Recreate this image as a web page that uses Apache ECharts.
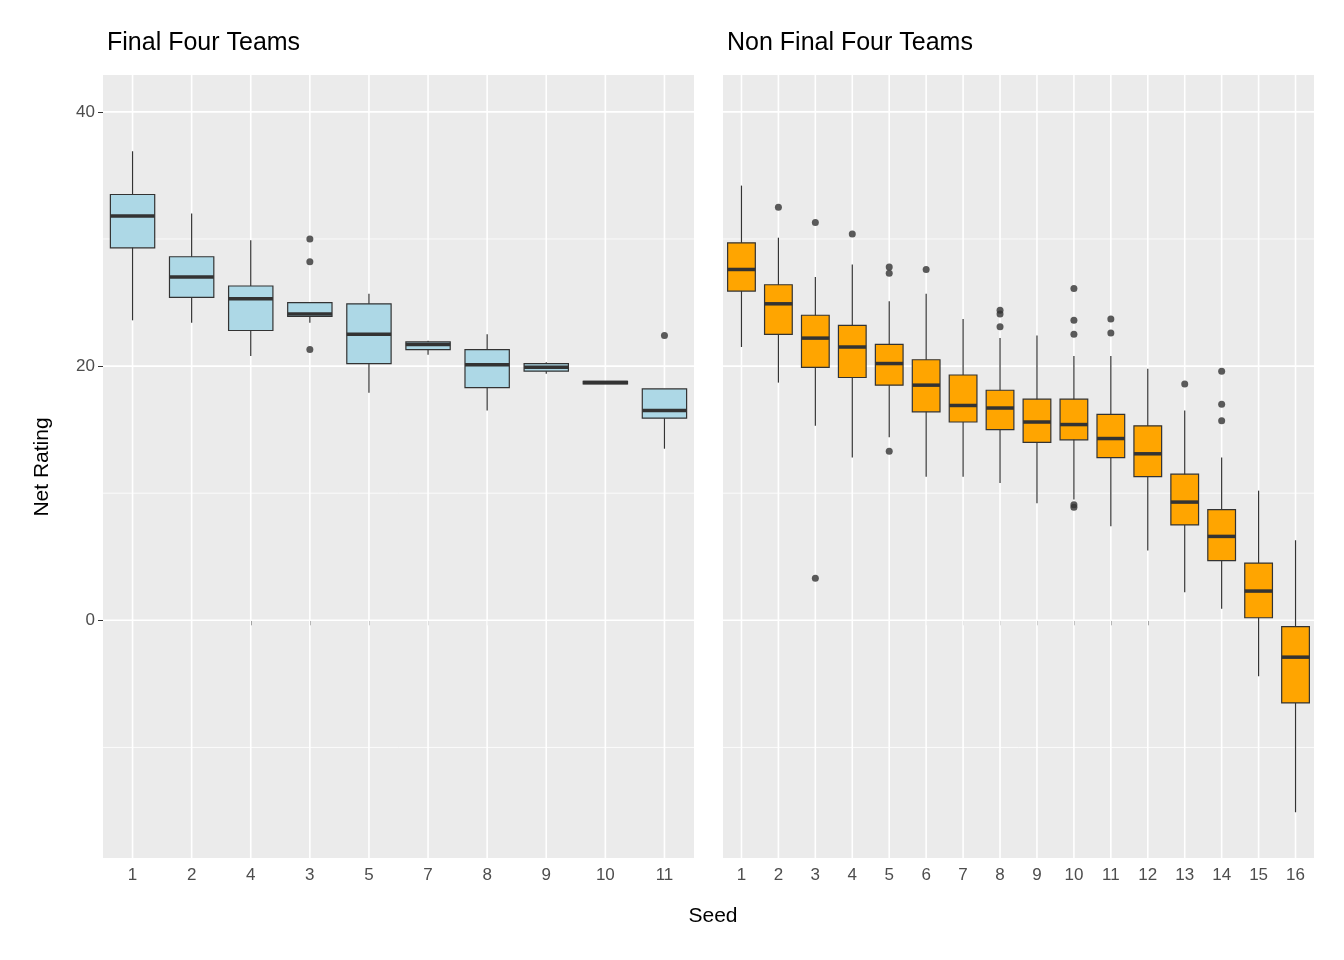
<!DOCTYPE html>
<html><head><meta charset="utf-8">
<script src="https://cdn.jsdelivr.net/npm/echarts@6/dist/echarts.min.js"></script>
<style>html,body{margin:0;padding:0;background:#fff}#c{width:1344px;height:960px}</style>
</head><body><div id="c"></div>
<script>
// Final Four panel
const ffSeeds = ['1','2','4','3','5','7','8','9','10','11'];
// [low whisker, Q1, median, Q3, high whisker]
const ffBoxes = [
  [23.6,29.3,31.8,33.5,36.9],
  [23.4,25.4,27.0,28.6,32.0],
  [20.8,22.8,25.3,26.3,29.9],
  [23.4,23.9,24.1,25.0,25.0],
  [17.9,20.2,22.5,24.9,25.7],
  [20.9,21.3,21.7,21.9,22.0],
  [16.5,18.3,20.1,21.3,22.5],
  [19.4,19.6,19.9,20.2,20.3],
  [18.6,18.6,18.7,18.8,18.8],
  [13.5,15.9,16.5,18.2,18.2]
];
const ffOutliers = [['3',30.0],['3',28.2],['3',21.3],['11',22.4]];
// Non Final Four panel
const nffSeeds = ['1','2','3','4','5','6','7','8','9','10','11','12','13','14','15','16'];
const nffBoxes = [
  [21.5,25.9,27.6,29.7,34.2],
  [18.7,22.5,24.9,26.4,30.1],
  [15.3,19.9,22.2,24.0,27.0],
  [12.8,19.1,21.5,23.2,28.0],
  [14.4,18.5,20.2,21.7,25.1],
  [11.3,16.4,18.5,20.5,25.7],
  [11.3,15.6,16.9,19.3,23.7],
  [10.8,15.0,16.7,18.1,22.2],
  [9.2,14.0,15.6,17.4,22.4],
  [9.5,14.2,15.4,17.4,20.8],
  [7.4,12.8,14.3,16.2,20.8],
  [5.5,11.3,13.1,15.3,19.8],
  [2.2,7.5,9.3,11.5,16.5],
  [0.9,4.7,6.6,8.7,12.8],
  [-4.4,0.2,2.3,4.5,10.2],
  [-15.1,-6.5,-2.9,-0.5,6.3]
];
const nffOutliers = [['2',32.5],['3',31.3],['3',3.3],['4',30.4],['5',27.8],['5',27.3],['5',13.3],['6',27.6],
  ['8',24.4],['8',24.1],['8',23.1],['10',26.1],['10',23.6],['10',22.5],['10',9.1],['10',8.9],
  ['11',23.7],['11',22.6],['13',18.6],['14',19.6],['14',17.0],['14',15.7]];
const yLabels = [0,20,40];
const minorY = [-10,10,30];

const chart = echarts.init(document.getElementById('c'));
const YMIN=-18.7, YMAX=42.9;
const FF='Liberation Sans, Arial';
function xAx(i,cats){return {type:'category',gridIndex:i,data:cats,boundaryGap:true,
  axisLine:{show:false},axisTick:{show:true,alignWithLabel:true,length:5,lineStyle:{color:'#333'}},
  axisLabel:{color:'#4D4D4D',fontSize:17,fontFamily:FF,margin:9},splitLine:{show:false}};}
function yAx(i,showLab){return {type:'value',gridIndex:i,min:YMIN,max:YMAX,
  axisLine:{show:false},splitLine:{show:false},
  axisTick:{show:showLab,length:5,customValues:yLabels,lineStyle:{color:'#333'}},
  axisLabel:{show:showLab,customValues:yLabels,color:'#4D4D4D',fontSize:17,fontFamily:FF,margin:8}};}
// grid lines drawn through the axes' scales
function gridSeries(i,cats){
  return {type:'custom',xAxisIndex:i,yAxisIndex:i,silent:true,z:1,
    data:cats.map((c,k)=>[k]),
    renderItem:function(params,api){
      const cs=params.coordSys; const ch=[];
      const x=api.coord([api.value(0),0])[0];
      ch.push({type:'line',shape:{x1:x,y1:cs.y,x2:x,y2:cs.y+cs.height},style:{stroke:'#fff',lineWidth:1.6}});
      if(params.dataIndex===0){
        yLabels.forEach(v=>{const y=api.coord([0,v])[1];
          ch.push({type:'line',shape:{x1:cs.x,y1:y,x2:cs.x+cs.width,y2:y},style:{stroke:'#fff',lineWidth:1.6}});});
        minorY.forEach(v=>{const y=api.coord([0,v])[1];
          ch.push({type:'line',shape:{x1:cs.x,y1:y,x2:cs.x+cs.width,y2:y},style:{stroke:'#fff',lineWidth:0.8}});});
      }
      return {type:'group',children:ch};
    }};
}
function boxSeries(i,cats,boxes,color){
  return {type:'custom',xAxisIndex:i,yAxisIndex:i,z:3,
    data:boxes.map((b,k)=>[k].concat(b)),
    renderItem:function(params,api){
      const k=api.value(0);
      const w=api.size([1,0])[0]*0.75;
      const p=[1,2,3,4,5].map(j=>api.coord([k,api.value(j)]));
      const x=p[0][0];
      return {type:'group',children:[
        {type:'line',shape:{x1:x,y1:p[0][1],x2:x,y2:p[4][1]},style:{stroke:'#333',lineWidth:1.2}},
        {type:'rect',shape:{x:x-w/2,y:p[3][1],width:w,height:p[1][1]-p[3][1]},style:{fill:color,stroke:'#333',lineWidth:1.2}},
        {type:'line',shape:{x1:x-w/2,y1:p[2][1],x2:x+w/2,y2:p[2][1]},style:{stroke:'#333',lineWidth:3.5}}
      ]};
    }};
}
function sc(i,data){return {type:'scatter',xAxisIndex:i,yAxisIndex:i,data:data,symbolSize:7,
  itemStyle:{color:'#333'},z:4,silent:true};}
chart.setOption({
  animation:false,
  textStyle:{fontFamily:FF},
  title:[
    {text:'Final Four Teams',left:102,top:26,textStyle:{fontSize:25,fontWeight:'normal',color:'#000',fontFamily:FF}},
    {text:'Non Final Four Teams',left:722,top:26,textStyle:{fontSize:25,fontWeight:'normal',color:'#000',fontFamily:FF}},
    {text:'Seed',left:708,top:901,textAlign:'center',textStyle:{fontSize:21,fontWeight:'normal',color:'#000',fontFamily:FF}}
  ],
  graphic:[{type:'text',x:42,y:467,rotation:Math.PI/2,style:{text:'Net Rating',fontSize:21,fill:'#000',
    align:'center',verticalAlign:'middle',fontFamily:FF}}],
  grid:[
    {left:103,width:591,top:75,height:783,show:true,backgroundColor:'#EBEBEB',borderWidth:0},
    {left:723,width:591,top:75,height:783,show:true,backgroundColor:'#EBEBEB',borderWidth:0}
  ],
  xAxis:[xAx(0,ffSeeds),xAx(1,nffSeeds)],
  yAxis:[yAx(0,true),yAx(1,false)],
  series:[gridSeries(0,ffSeeds),boxSeries(0,ffSeeds,ffBoxes,'#ADD8E6'),sc(0,ffOutliers),
          gridSeries(1,nffSeeds),boxSeries(1,nffSeeds,nffBoxes,'#FFA500'),sc(1,nffOutliers)]
});
</script></body></html>
